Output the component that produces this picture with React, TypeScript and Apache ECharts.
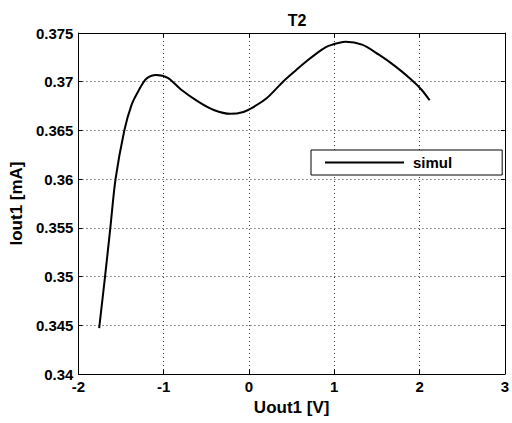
import React, { useEffect, useRef } from "react";
import * as echarts from "echarts";

const uout: number[] = [
  -1.757, -1.688, -1.626, -1.565, -1.462, -1.378, -1.3, -1.204, -1.088, -0.952,
  -0.798, -0.586, -0.413, -0.219, -0.065, 0.051, 0.206, 0.399, 0.554, 0.688,
  0.855, 0.94, 1.133, 1.326, 1.519, 1.713, 1.905, 2.021, 2.118,
];
const iout: number[] = [
  0.3447, 0.35, 0.355, 0.36, 0.365, 0.3676, 0.369, 0.3703, 0.3707, 0.3704,
  0.3692, 0.3679, 0.3671, 0.3667, 0.3669, 0.3674, 0.3683, 0.37, 0.3712, 0.3722,
  0.3733, 0.3737, 0.3741, 0.3738, 0.3728, 0.3716, 0.3702, 0.3692, 0.3681,
];
const seriesName = "simul";
const titleText = "T2";
const xName = "Uout1 [V]";
const yName = "Iout1 [mA]";

const FONT = "'Liberation Sans', Arial, Helvetica, sans-serif";

export default function App() {
  const ref = useRef<HTMLDivElement>(null);
  useEffect(() => {
    if (!ref.current) return;
    const chart = echarts.init(ref.current, null, { renderer: "svg" });
    const data = uout.map((x, i) => [x, iout[i]]);
    const tickLabel = { fontFamily: FONT, fontWeight: "bold" as const, fontSize: 15, color: "#000" };
    const split = { show: true, lineStyle: { color: "#333", type: [1, 3] as number[], width: 1 } };
    const axLine = { show: true, onZero: false, lineStyle: { color: "#000", width: 1 } };
    const axTick = { show: true, inside: true, length: 4, lineStyle: { color: "#000" } };
    chart.setOption({
      animation: false,
      backgroundColor: "#fff",
      title: {
        text: titleText,
        left: 292,
        textAlign: "center",
        top: 7,
        textStyle: { fontFamily: FONT, fontWeight: "bold", fontSize: 16, color: "#000" },
      },
      legend: {
        left: 311,
        top: 150,
        orient: "vertical",
        backgroundColor: "#fff",
        borderColor: "#000",
        borderWidth: 1,
        padding: [5, 50, 5, 14],
        itemWidth: 79,
        itemHeight: 2,
        icon: "rect",
        data: [seriesName],
        textStyle: { fontFamily: FONT, fontWeight: "bold", fontSize: 15, color: "#000", padding: [0, 0, 0, 4] },
      },
      grid: { left: 76, top: 33, right: 3, bottom: 49, containLabel: false },
      xAxis: [
        {
          type: "value",
          min: -2,
          max: 3,
          interval: 1,
          name: xName,
          nameLocation: "middle",
          nameGap: 20,
          nameTextStyle: { fontFamily: FONT, fontWeight: "bold", fontSize: 17, color: "#000" },
          axisLine: axLine,
          axisTick: axTick,
          axisLabel: { ...tickLabel, margin: 5 },
          splitLine: split,
        },
        {
          type: "value",
          position: "top",
          min: -2,
          max: 3,
          interval: 1,
          axisLine: axLine,
          axisTick: axTick,
          axisLabel: { show: false },
          splitLine: { show: false },
        },
      ],
      yAxis: [
        {
          type: "value",
          min: 0.34,
          max: 0.375,
          interval: 0.005,
          name: yName,
          nameLocation: "middle",
          nameGap: 53,
          nameRotate: 90,
          nameTextStyle: { fontFamily: FONT, fontWeight: "bold", fontSize: 17, color: "#000" },
          axisLine: axLine,
          axisTick: axTick,
          axisLabel: { ...tickLabel, margin: 5, formatter: (v: number) => String(+v.toFixed(3)) },
          splitLine: split,
        },
        {
          type: "value",
          position: "right",
          min: 0.34,
          max: 0.375,
          interval: 0.005,
          axisLine: axLine,
          axisTick: axTick,
          axisLabel: { show: false },
          splitLine: { show: false },
        },
      ],
      series: [
        {
          name: seriesName,
          type: "line",
          xAxisIndex: 0,
          yAxisIndex: 0,
          data,
          smooth: 0.3,
          symbol: "none",
          lineStyle: { color: "#000", width: 2 },
          itemStyle: { color: "#000" },
        },
      ],
    });
    return () => chart.dispose();
  }, []);
  return (
    <div
      ref={ref}
      style={{ position: "absolute", left: 0, top: 0, width: 512, height: 423 }}
    />
  );
}
